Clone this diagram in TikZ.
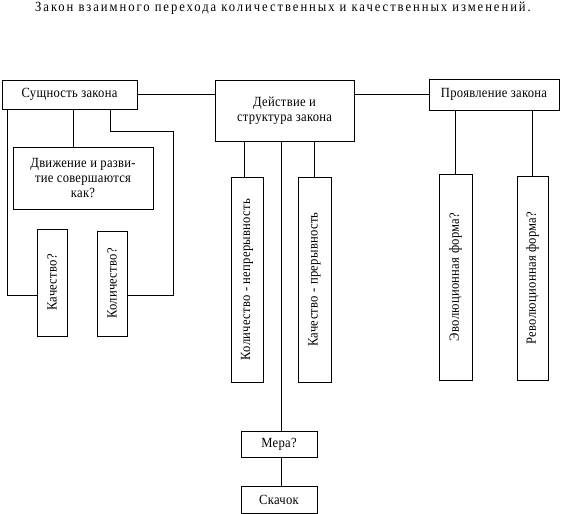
\documentclass[tikz,border=0pt]{standalone}
\usepackage{fontspec}
\usepackage{graphicx}
\setmainfont{Liberation Serif}[FakeStretch=0.9,LetterSpace=2]
\newfontfamily\titlefont{Liberation Serif}[FakeStretch=0.9,LetterSpace=14]
\begin{document}
\begin{tikzpicture}[x=1pt,y=-1pt,
  box/.style={draw,line width=0.8pt,inner sep=1pt,align=center,font=\fontsize{14}{15}\selectfont},
  conn/.style={line width=0.8pt}]
\useasboundingbox (0,0) rectangle (566,514);
\node[font=\titlefont\fontsize{14}{15}\selectfont] (T) at (283,8) {Закон взаимного перехода количественных и качественных изменений.};
\node[box,minimum width=135,minimum height=29] (S) at (69.5,94.5) {Сущность закона};
\node[box,minimum width=139,minimum height=61] (D) at (284.5,110.5) {Действие и\\структура закона};
\node[box,minimum width=130,minimum height=31] (P) at (494,94.5) {Проявление закона};
\node[box,minimum width=140,minimum height=62] (Dv) at (83,178) {Движение и разви-\\тие совершаются\\как?};
\node[box,minimum width=30,minimum height=107] (Kach) at (52,282.5) {\rotatebox{90}{Качество?}};
\node[box,minimum width=30,minimum height=105] (Kol) at (112,283.5) {\rotatebox{90}{Количество?}};
\node[box,minimum width=32,minimum height=205] (KN) at (247,279.5) {\rotatebox{90}{Количество - непрерывность}};
\node[box,minimum width=33,minimum height=205] (KP) at (314.5,279.5) {\rotatebox{90}{Качество - прерывность}};
\node[box,minimum width=76,minimum height=26] (M) at (279,444) {Мера?};
\node[box,minimum width=76,minimum height=27] (Sk) at (279,499.5) {Скачок};
\node[box,minimum width=33,minimum height=206] (E) at (455.5,277) {\rotatebox{90}{Эволюционная форма?}};
\node[box,minimum width=31,minimum height=204] (R) at (532.5,278) {\rotatebox{90}{Революционная форма?}};
\draw[conn] (S.east) -- (S.east -| D.west);
\draw[conn] (D.east |- P.west) -- (P.west);
\draw[conn] (S.south -| 7,0) |- (Kach.west |- 0,295);
\draw[conn] (S.south -| 73,0) -- (Dv.north -| 73,0);
\draw[conn] (S.south -| 110,0) |- (173,131) |- (Kol.east |- 0,295);
\draw[conn] (D.south -| 244,0) -- (KN.north -| 244,0);
\draw[conn] (D.south -| KP.north) -- (KP.north);
\draw[conn] (D.south -| 281,0) -- (M.north -| 281,0);
\draw[conn] (M.south -| 281,0) -- (Sk.north -| 281,0);
\draw[conn] (P.south -| E.north) -- (E.north);
\draw[conn] (P.south -| R.north) -- (R.north);
\end{tikzpicture}
\end{document}
